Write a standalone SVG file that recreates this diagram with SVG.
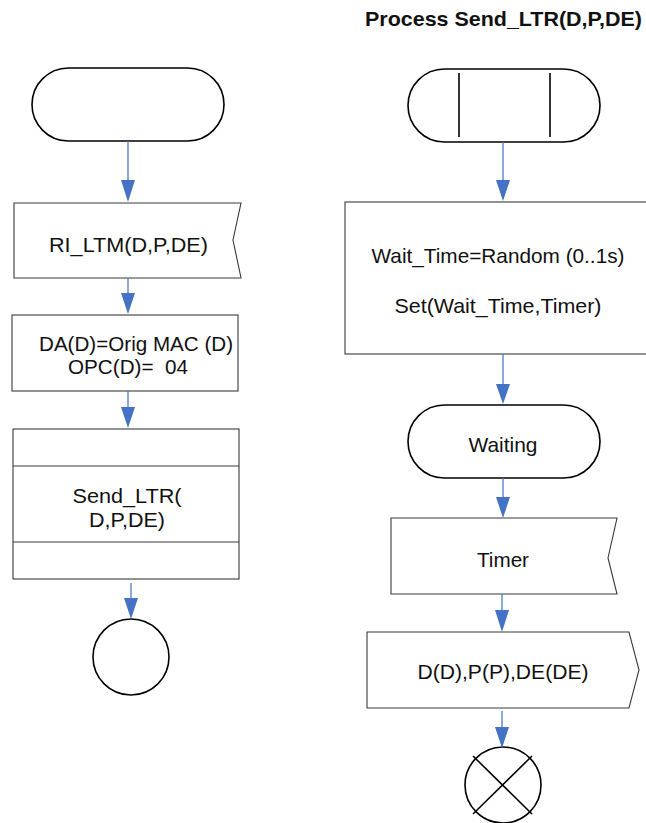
<svg xmlns="http://www.w3.org/2000/svg" width="646" height="823" viewBox="0 0 646 823">
<style>
.bg{fill:#fff}
.term{fill:#fff;stroke:#000;stroke-width:1.6}
.box{fill:#fff;stroke:#3a3a3a;stroke-width:1.1}
.bar{stroke:#000;stroke-width:1.6;fill:none}
.t{font-family:"Liberation Sans",Arial,sans-serif;font-size:21px;fill:#111;text-anchor:middle}
.title{font-family:"Liberation Sans",Arial,sans-serif;font-size:21px;font-weight:bold;fill:#111;text-anchor:middle}
.con{stroke:#4a7cc8;stroke-width:1.3;fill:none}
.head{fill:#4472c4}
</style>
<rect class="bg" x="0" y="0" width="646" height="823"/>
<text class="title" x="503.5" y="26" textLength="277" lengthAdjust="spacingAndGlyphs">Process Send_LTR(D,P,DE)</text>

<g id="start-left">
<rect class="term" x="32" y="68" width="192" height="73" rx="36.5" ry="36.5"/>
</g>
<g id="ri-ltm">
<path class="box" d="M14,203 L241,203 L233,240 L241,278 L14,278 Z"/>
<text class="t" x="128.5" y="252" textLength="159" lengthAdjust="spacingAndGlyphs">RI_LTM(D,P,DE)</text>
</g>
<g id="assign">
<rect class="box" x="12" y="315" width="226" height="76"/>
<text class="t" x="136" y="351" textLength="194" lengthAdjust="spacingAndGlyphs">DA(D)=Orig MAC (D)</text>
<text class="t" x="128" y="374" textLength="120" lengthAdjust="spacingAndGlyphs" xml:space="preserve">OPC(D)=  04</text>
</g>
<g id="send-ltr">
<rect class="box" x="13" y="429" width="226" height="150"/>
<line class="box" x1="13" y1="466" x2="239" y2="466"/>
<line class="box" x1="13" y1="542" x2="239" y2="542"/>
<text class="t" x="127" y="503" textLength="109" lengthAdjust="spacingAndGlyphs">Send_LTR(</text>
<text class="t" x="127" y="527" textLength="76" lengthAdjust="spacingAndGlyphs">D,P,DE)</text>
</g>
<g id="end-left">
<circle class="term" cx="131" cy="657" r="38"/>
</g>

<g id="start-right">
<rect class="term" x="408" y="69" width="192" height="73" rx="36.5" ry="36.5"/>
<line class="bar" x1="459" y1="73" x2="459" y2="137"/>
<line class="bar" x1="550" y1="73" x2="550" y2="137"/>
</g>
<g id="set-timer">
<rect class="box" x="345" y="202" width="310" height="152"/>
<text class="t" x="498" y="263" textLength="253" lengthAdjust="spacingAndGlyphs">Wait_Time=Random (0..1s)</text>
<text class="t" x="498" y="313" textLength="207" lengthAdjust="spacingAndGlyphs">Set(Wait_Time,Timer)</text>
</g>
<g id="waiting">
<rect class="term" x="408" y="405" width="192" height="73" rx="36.5" ry="36.5"/>
<text class="t" x="503" y="452" textLength="69" lengthAdjust="spacingAndGlyphs">Waiting</text>
</g>
<g id="timer">
<path class="box" d="M391,518 L617,518 L608,558 L617,594 L391,594 Z"/>
<text class="t" x="503" y="567" textLength="52" lengthAdjust="spacingAndGlyphs">Timer</text>
</g>
<g id="output">
<path class="box" d="M367,632 L629,632 L639,670 L629,708 L367,708 Z"/>
<text class="t" x="503" y="679" textLength="171" lengthAdjust="spacingAndGlyphs">D(D),P(P),DE(DE)</text>
</g>
<g id="stop-right">
<circle class="term" cx="503" cy="785" r="38"/>
<line class="bar" x1="473" y1="756" x2="532" y2="814"/>
<line class="bar" x1="532" y1="756" x2="473" y2="814"/>
</g>

<g id="connectors">
<line class="con" x1="128" y1="141" x2="128" y2="182"/>
<path class="head" d="M121,180 L135,180 L128,202 Z"/>
<line class="con" x1="128" y1="278" x2="128" y2="295"/>
<path class="head" d="M121,293 L135,293 L128,314 Z"/>
<line class="con" x1="128" y1="391" x2="128" y2="409"/>
<path class="head" d="M121,407 L135,407 L128,428 Z"/>
<line class="con" x1="131" y1="583" x2="131" y2="600"/>
<path class="head" d="M124,598 L138,598 L131,619 Z"/>

<line class="con" x1="503" y1="142" x2="503" y2="182"/>
<path class="head" d="M496,180 L510,180 L503,201 Z"/>
<line class="con" x1="503" y1="354" x2="503" y2="386"/>
<path class="head" d="M496,384 L510,384 L503,404 Z"/>
<line class="con" x1="503" y1="478" x2="503" y2="499"/>
<path class="head" d="M496,497 L510,497 L503,518 Z"/>
<line class="con" x1="502" y1="594" x2="502" y2="612"/>
<path class="head" d="M495,610 L509,610 L502,632 Z"/>
<line class="con" x1="502" y1="711" x2="502" y2="729"/>
<path class="head" d="M495,727 L509,727 L502,748 Z"/>
</g>
</svg>
